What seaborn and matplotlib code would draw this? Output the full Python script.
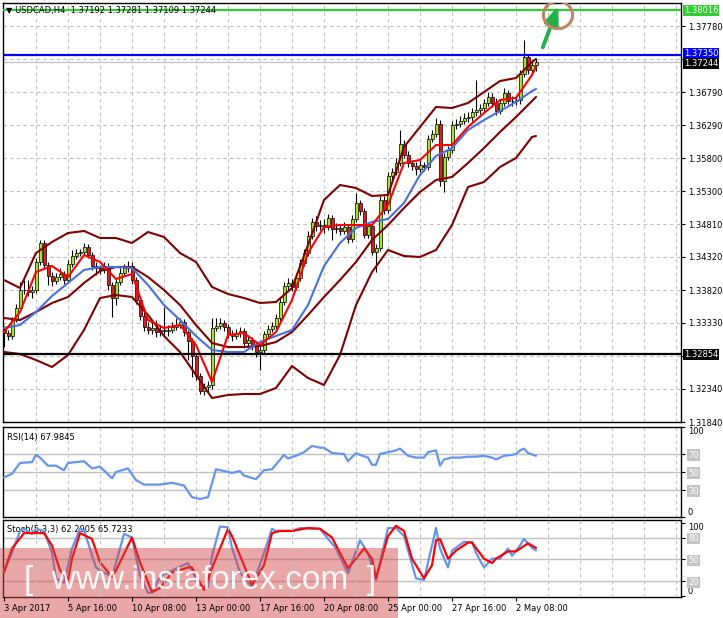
import numpy as np
import matplotlib
matplotlib.use("Agg")
import matplotlib.pyplot as plt
from matplotlib.patches import Ellipse, Rectangle
import seaborn as sns

# ---- USDCAD H4 candles, bar 0 = 3 Apr 2017 00:00 ----
closes = [
    1.33175, 1.33130, 1.33370, 1.33550, 1.33820, 1.33820, 1.33790, 1.33820, 1.34240, 1.34525,
    1.34195, 1.34030, 1.33955, 1.34015, 1.34060, 1.33970, 1.34210, 1.34330, 1.34375, 1.34390,
    1.34465, 1.34345, 1.34180, 1.34150, 1.34120, 1.34180, 1.33895, 1.33700, 1.33940, 1.34075,
    1.34150, 1.34180, 1.33970, 1.33670, 1.33430, 1.33265, 1.33220, 1.33250, 1.33190, 1.33220,
    1.33205, 1.33220, 1.33265, 1.33295, 1.33340, 1.33190, 1.33055, 1.32830, 1.32530, 1.32305,
    1.32365, 1.32395, 1.33250, 1.33280, 1.33325, 1.33265, 1.33160, 1.33130, 1.33175, 1.33205,
    1.33025, 1.33070, 1.32995, 1.32890, 1.32920, 1.33160, 1.33235, 1.33280, 1.33400, 1.33640,
    1.33880, 1.33925, 1.33865, 1.34000, 1.34225, 1.34375, 1.34630, 1.34840, 1.34780, 1.34795,
    1.34765, 1.34900, 1.34735, 1.34750, 1.34705, 1.34765, 1.34585, 1.34885, 1.35125, 1.35005,
    1.34645, 1.34780, 1.34390, 1.34450, 1.35170, 1.35020, 1.35530, 1.35590, 1.35725, 1.36010,
    1.35845, 1.35725, 1.35680, 1.35635, 1.35695, 1.35665, 1.36085, 1.36160, 1.36310, 1.35455,
    1.35815, 1.35920, 1.36295, 1.36310, 1.36355, 1.36400, 1.36415, 1.36490, 1.36520, 1.36550,
    1.36625, 1.36715, 1.36625, 1.36505, 1.36625, 1.36775, 1.36655, 1.36655, 1.36670, 1.37060,
    1.37315, 1.37120, 1.37192, 1.37244]
highs = [
    1.33280, 1.33220, 1.33415, 1.33610, 1.33940, 1.33970, 1.33970, 1.33880, 1.34300, 1.34570,
    1.34570, 1.34240, 1.34090, 1.34075, 1.34150, 1.34105, 1.34270, 1.34420, 1.34435, 1.34435,
    1.34525, 1.34510, 1.34390, 1.34240, 1.34195, 1.34240, 1.34225, 1.33940, 1.34000, 1.34150,
    1.34210, 1.34255, 1.34240, 1.34015, 1.33715, 1.33490, 1.33340, 1.33370, 1.33370, 1.33280,
    1.33565, 1.33295, 1.33340, 1.33400, 1.33400, 1.33385, 1.33220, 1.33100, 1.32875, 1.32575,
    1.32425, 1.32455, 1.33400, 1.33400, 1.33400, 1.33370, 1.33310, 1.33220, 1.33235, 1.33265,
    1.33250, 1.33130, 1.33115, 1.33055, 1.32980, 1.33205, 1.33295, 1.33340, 1.33460, 1.33700,
    1.33940, 1.34000, 1.33985, 1.34075, 1.34285, 1.34435, 1.34705, 1.34900, 1.34930, 1.34870,
    1.34885, 1.34960, 1.34945, 1.34825, 1.34810, 1.34840, 1.34810, 1.34945, 1.35275, 1.35170,
    1.35050, 1.34840, 1.34825, 1.34510, 1.35230, 1.35230, 1.35590, 1.35650, 1.35800, 1.36220,
    1.36070, 1.35905, 1.35770, 1.35740, 1.35770, 1.35740, 1.36145, 1.36220, 1.36400, 1.36370,
    1.35875, 1.35980, 1.36355, 1.36385, 1.36430, 1.36475, 1.36490, 1.36550, 1.36970, 1.36610,
    1.36685, 1.36790, 1.36775, 1.36700, 1.36685, 1.36850, 1.36820, 1.36730, 1.36730, 1.37120,
    1.37570, 1.37360, 1.37270, 1.37281]
lows = [
    1.32965, 1.33070, 1.33085, 1.33340, 1.33505, 1.33760, 1.33730, 1.33700, 1.33775, 1.34195,
    1.34150, 1.33895, 1.33880, 1.33910, 1.33970, 1.33910, 1.33925, 1.34165, 1.34285, 1.34330,
    1.34345, 1.34300, 1.34120, 1.34045, 1.34060, 1.34075, 1.33820, 1.33415, 1.33595, 1.33895,
    1.34030, 1.34090, 1.33910, 1.33610, 1.33370, 1.33205, 1.33160, 1.33160, 1.33115, 1.33130,
    1.33115, 1.33130, 1.33175, 1.33220, 1.33250, 1.33130, 1.32770, 1.32515, 1.32470, 1.32260,
    1.32245, 1.32290, 1.32335, 1.33205, 1.33235, 1.33205, 1.33100, 1.33055, 1.33085, 1.33115,
    1.32950, 1.32965, 1.32920, 1.32815, 1.32620, 1.32875, 1.33115, 1.33190, 1.33235, 1.33355,
    1.33595, 1.33820, 1.33805, 1.33820, 1.33955, 1.34180, 1.34330, 1.34585, 1.34705, 1.34720,
    1.34675, 1.34720, 1.34570, 1.34675, 1.34645, 1.34660, 1.34525, 1.34540, 1.34840, 1.34945,
    1.34600, 1.34600, 1.34345, 1.34090, 1.34405, 1.34960, 1.34975, 1.35470, 1.35545, 1.35680,
    1.35800, 1.35665, 1.35620, 1.35545, 1.35590, 1.35605, 1.35620, 1.36040, 1.36115, 1.35380,
    1.35290, 1.35770, 1.35875, 1.36235, 1.36265, 1.36310, 1.36340, 1.36355, 1.36430, 1.36460,
    1.36490, 1.36580, 1.36565, 1.36445, 1.36460, 1.36580, 1.36610, 1.36580, 1.36595, 1.36610,
    1.37015, 1.37060, 1.37075, 1.37109]
first_open = 1.33220
opens = [first_open] + closes[:-1]

# ---- indicator lines, read every 4 bars (+ last bar) ----
ind_bars = list(range(0, 133, 4)) + [133]
ma_fast = [1.33190, 1.33490, 1.34090, 1.34180, 1.34015, 1.34345, 1.34240, 1.33985, 1.34060, 1.33370,
           1.33250, 1.33295, 1.32995, 1.32440, 1.33145, 1.33175, 1.32995, 1.33190, 1.33670, 1.34375,
           1.34765, 1.34795, 1.34795, 1.34795, 1.35095, 1.35725, 1.35770, 1.35995, 1.35995, 1.36265,
           1.36475, 1.36670, 1.36700, 1.37045, 1.37165]
ma_mid = [1.33250, 1.33295, 1.33490, 1.33730, 1.33925, 1.34120, 1.34165, 1.34165, 1.34150, 1.33895,
          1.33595, 1.33370, 1.33130, 1.32920, 1.32890, 1.32890, 1.33040, 1.33130, 1.33220, 1.33595,
          1.34180, 1.34525, 1.34750, 1.34840, 1.34885, 1.35125, 1.35545, 1.35830, 1.35950, 1.36220,
          1.36370, 1.36505, 1.36640, 1.36805, 1.36835]
ma_slow = [1.33400, 1.33370, 1.33490, 1.33625, 1.33715, 1.33925, 1.34105, 1.34165, 1.34165, 1.34015,
           1.33820, 1.33595, 1.33295, 1.33025, 1.32965, 1.32965, 1.32980, 1.33040, 1.33190, 1.33445,
           1.33715, 1.33970, 1.34240, 1.34570, 1.34795, 1.35050, 1.35290, 1.35470, 1.35515, 1.35725,
           1.35950, 1.36190, 1.36415, 1.36655, 1.36715]
band_up = [1.33970, 1.33850, 1.34375, 1.34540, 1.34675, 1.34705, 1.34600, 1.34600, 1.34525, 1.34690,
           1.34615, 1.34375, 1.34240, 1.33865, 1.33760, 1.33700, 1.33625, 1.33640, 1.33850, 1.34495,
           1.35170, 1.35395, 1.35350, 1.35230, 1.35245, 1.35965, 1.36265, 1.36565, 1.36550, 1.36625,
           1.36790, 1.36955, 1.37000, 1.37240, 1.37285]
band_dn = [1.32890, 1.32860, 1.32770, 1.32665, 1.32845, 1.33220, 1.33700, 1.33745, 1.33715, 1.33445,
           1.33130, 1.32890, 1.32545, 1.32200, 1.32245, 1.32260, 1.32260, 1.32350, 1.32680, 1.32500,
           1.32395, 1.32845, 1.33595, 1.34090, 1.34420, 1.34330, 1.34315, 1.34420, 1.34795, 1.35365,
           1.35440, 1.35665, 1.35800, 1.36115, 1.36130]

# ---- RSI(14) ----
rsi_bars = [0, 2, 4, 7, 8, 9, 11, 13, 15, 16, 20, 22, 24, 27, 28, 31, 33, 35, 39, 42,
            45, 47, 49, 51, 53, 57, 59, 60, 63, 65, 67, 70, 71, 73, 75, 77, 79, 80, 82, 85,
            86, 88, 89, 91, 92, 93, 94, 96, 98, 99, 101, 103, 105, 106, 108, 109, 110, 112, 114, 116,
            118, 120, 122, 123, 125, 127, 128, 129, 130, 131, 133]
rsi_vals = [44, 48, 60, 61, 69, 66, 57, 57, 52, 60, 62, 54, 56, 43, 50, 54, 41, 36, 36, 38,
            35, 22, 20, 22, 53, 49, 51, 46, 42, 52, 53, 69, 65, 68, 72, 79, 77, 77, 71, 70,
            62, 71, 69, 66, 58, 58, 70, 72, 74, 76, 68, 66, 66, 72, 74, 57, 64, 66, 66, 67,
            67, 68, 66, 64, 68, 69, 70, 74, 76, 71, 67.98]

# ---- Stochastic(5,3,3) ----
k_bars = [0, 2, 4, 5, 7, 8, 10, 12, 13, 15, 17, 19, 20, 23, 25, 27, 29, 30, 32, 34,
          36, 37, 39, 42, 46, 47, 49, 51, 52, 54, 56, 57, 59, 62, 63, 65, 67, 68, 70, 72,
          74, 77, 79, 80, 83, 85, 86, 89, 91, 93, 96, 98, 100, 103, 105, 107, 108, 109, 111, 112,
          115, 117, 118, 120, 122, 124, 126, 127, 129, 130, 132, 133]
k_vals = [35, 59, 89, 92, 85, 92, 89, 59, 24, 18, 65, 92, 90, 39, 32, 26, 65, 85, 80, 28,
          4, 5, 26, 35, 45, 35, 12, 12, 55, 95, 94, 66, 32, 12, 28, 59, 92, 89, 89, 89,
          93, 92, 92, 85, 65, 42, 31, 76, 59, 22, 93, 93, 82, 24, 22, 69, 93, 65, 39, 62,
          74, 74, 59, 39, 51, 51, 65, 55, 69, 78, 66, 62.29]
d_bars = [0, 2, 5, 7, 10, 12, 14, 16, 17, 19, 22, 24, 27, 28, 32, 34, 37, 39, 42, 46,
          47, 50, 52, 56, 57, 60, 62, 65, 67, 69, 72, 76, 79, 82, 84, 86, 88, 90, 92, 93,
          96, 98, 100, 102, 105, 107, 108, 109, 111, 113, 116, 117, 120, 122, 123, 126, 128, 131, 133]
d_vals = [32, 65, 86, 86, 86, 69, 35, 22, 51, 86, 78, 46, 26, 35, 80, 46, 5, 11, 32, 39,
          39, 8, 38, 92, 82, 42, 15, 42, 86, 89, 89, 93, 92, 80, 59, 38, 51, 65, 51, 24,
          82, 96, 89, 51, 24, 42, 76, 78, 51, 62, 73, 73, 51, 45, 51, 61, 61, 72, 65.72]

price_ticks = [1.31840, 1.32340, 1.32830, 1.33330, 1.33820, 1.34320, 1.34810,
               1.35300, 1.35800, 1.36290, 1.36790, 1.37280, 1.37780]
hidden_ticks = [1.32830, 1.37280]
support = 1.32854
resist = 1.37350
target = 1.38016
last_price = 1.37244
date_ticks = [0, 16, 32, 48, 64, 80, 96, 112, 128]
date_labels = ["3 Apr 2017", "5 Apr 16:00", "10 Apr 08:00", "13 Apr 00:00", "17 Apr 16:00",
               "20 Apr 08:00", "25 Apr 00:00", "27 Apr 16:00", "2 May 08:00"]
grid_bars = list(range(8, 170, 8))

BULL = "#a4e22c"
BEAR = "#d42020"
MAROON = "#800000"
BLUE = "#4570e0"
CORN = "#6495ed"
GRID = "#c0c0c0"
FS = 6.0

sns.set_theme(style="white")
plt.rcParams["font.family"] = ["DejaVu Sans"]

W, H = 723, 618
fig = plt.figure(figsize=(W / 100, H / 100), dpi=100)
fig.patch.set_facecolor("white")


def box(l, t, r, b):
    return [l / W, 1 - b / H, (r - l) / W, (b - t) / H]


ax = fig.add_axes(box(3, 3, 681, 422))
ax_rsi = fig.add_axes(box(3, 427, 681, 517))
ax_st = fig.add_axes(box(3, 520, 681, 597))

for a in (ax, ax_rsi, ax_st):
    a.set_facecolor("white")
    a.set_xlim(-0.25, 169.25)
    a.set_xticks(grid_bars, minor=True)
    a.grid(True, which="minor", axis="x", color=GRID, ls=(0, (3, 3)), lw=0.8)
    a.tick_params(which="minor", length=0)
    for s in a.spines.values():
        s.set_color("black")
        s.set_linewidth(1.0)
    a.yaxis.tick_right()
    a.tick_params(axis="y", which="major", right=True, left=False, length=3, width=0.8,
                  color="black", labelsize=FS, pad=2, labelcolor="black")
    a.set_axisbelow(True)

# ---- main price panel ----
bars = np.arange(len(closes))
o = np.array(opens)
c = np.array(closes)
body_lo = np.minimum(o, c)
body_h = np.abs(c - o)
ax.vlines(bars, lows, highs, color="black", lw=0.8, zorder=2)
ax.bar(bars, body_h, bottom=body_lo, width=0.75, color=np.where(c >= o, BULL, BEAR),
       edgecolor="black", linewidth=0.5, zorder=3)

for vals, col in [(band_up, MAROON), (band_dn, MAROON), (ma_slow, MAROON), (ma_mid, BLUE), (ma_fast, "#ff0000")]:
    sns.lineplot(x=ind_bars, y=vals, ax=ax, color=col, linewidth=1.5, zorder=4)

ax.axhline(target, color="#32cd32", lw=1.6, zorder=5)
ax.axhline(resist, color="#0000ff", lw=1.6, zorder=5)
ax.axhline(support, color="black", lw=1.6, zorder=5)
ax.axhline(last_price, color=GRID, lw=0.9, zorder=1.5)

ax.set_ylim(1.3184, 1.38125)
ax.set_xticks([])
ax.set_yticks(price_ticks)
ax.set_yticklabels(["" if p in hidden_ticks else f"{p:.5f}" for p in price_ticks])
ax.grid(True, which="major", axis="y", color=GRID, ls=(0, (3, 3)), lw=0.8)
ax.set_xlabel("")
ax.set_ylabel("")

for val, fc, dy in [(target, "#32cd32", 0), (resist, "#0000ff", 0.8), (last_price, "black", -1.2), (support, "black", 0)]:
    ax.annotate(f"{val:.5f}", xy=(1, val), xycoords=("axes fraction", "data"),
                xytext=(2.2, dy), textcoords="offset points", ha="left", va="center",
                fontsize=FS, color="white", annotation_clip=False, zorder=6,
                bbox=dict(boxstyle="square,pad=0.1", fc=fc, ec="none"))

ax.text(0.004, 0.992, "\u25bc USDCAD,H4  1.37192 1.37281 1.37109 1.37244", transform=ax.transAxes,
        fontsize=FS, va="top", ha="left", color="black", zorder=6)

# forecast arrow and target circle
ax.annotate("", xy=(138.6, 1.38085), xytext=(134.7, 1.37460),
            arrowprops=dict(arrowstyle="-|>,head_width=0.35,head_length=0.9", color="#22b04a",
                            lw=2.8, shrinkA=0, shrinkB=0), zorder=7)
ax.add_patch(Ellipse((138.5, 1.37945), width=7.3, height=0.0041, fill=False,
                     ec="#bd8466", lw=2.2, zorder=7))

# ---- RSI panel ----
for lv in (30, 50, 70):
    ax_rsi.axhline(lv, color=GRID, lw=1.0, zorder=1)
sns.lineplot(x=rsi_bars, y=rsi_vals, ax=ax_rsi, color=CORN, linewidth=1.6, zorder=3)
ax_rsi.set_ylim(0, 100)
ax_rsi.set_xticks([])
ax_rsi.set_yticks([0, 30, 50, 70, 100])
ax_rsi.set_yticklabels(["0", "30", "50", "70", "100"])
ax_rsi.set_xlabel("")
ax_rsi.set_ylabel("")
ax_rsi.text(0.006, 0.93, "RSI(14) 67.9845", transform=ax_rsi.transAxes, fontsize=FS,
            va="top", ha="left", color="black")

# ---- Stochastic panel ----
for lv in (20, 50, 80):
    ax_st.axhline(lv, color=GRID, lw=1.0, zorder=1)
sns.lineplot(x=k_bars, y=k_vals, ax=ax_st, color=CORN, linewidth=1.6, zorder=3)
sns.lineplot(x=d_bars, y=d_vals, ax=ax_st, color="#ff0000", linewidth=1.6, zorder=3)
ax_st.set_ylim(-1.5, 104)
ax_st.set_yticks([0, 20, 50, 80, 100])
ax_st.set_yticklabels(["0", "20", "50", "80", "100"])
ax_st.set_xticks(date_ticks)
ax_st.set_xticklabels(date_labels, ha="left")
ax_st.tick_params(axis="x", which="major", bottom=True, length=3, width=0.8, color="black",
                  labelsize=FS, pad=2, labelcolor="black")
ax_st.set_xlabel("")
ax_st.set_ylabel("")
ax_st.text(0.006, 0.93, "Stoch(5,3,3) 62.2905 65.7233", transform=ax_st.transAxes, fontsize=FS,
           va="top", ha="left", color="black", zorder=2)

for a, boxed in ((ax_rsi, ("30", "50", "70")), (ax_st, ("20", "50", "80"))):
    for lbl in a.get_yticklabels():
        t = lbl.get_text()
        if t in boxed:
            lbl.set_color("white")
            lbl.set_bbox(dict(boxstyle="square,pad=0.15", fc="#c4c4c4", ec="none"))
        elif t == "100":
            lbl.set_va("top")
        elif t == "0":
            lbl.set_va("bottom")

# watermark over lower-left corner
ax_st.xaxis.set_zorder(4)
ax_st.add_patch(Rectangle((0, 0), 398 / W, 70 / H, transform=fig.transFigure, fc="#d24848",
                          alpha=0.48, ec="none", clip_on=False, zorder=3.5))
ax_st.text(200 / W, 38 / H, "[  www.instaforex.com  ]", transform=fig.transFigure,
           ha="center", va="center", fontsize=24, color="white", alpha=0.9,
           family="Liberation Sans", clip_on=False, zorder=3.6)
ax_st.set_xlim(-0.25, 169.25)
ax_st.set_ylim(-1.5, 104)

fig.savefig("out.png", dpi=100)
